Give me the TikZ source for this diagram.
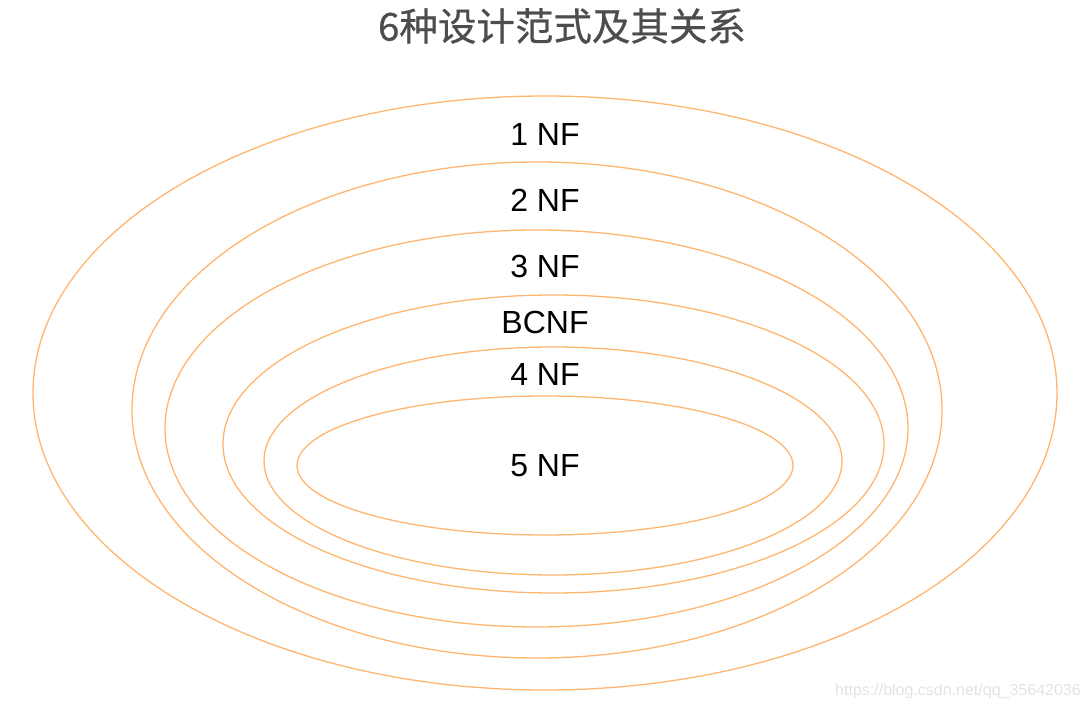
\documentclass[tikz,border=0pt]{standalone}
\usepackage{fontspec}
\setmainfont{Liberation Sans}
\newfontfamily\cjkfont[FakeBold=0.6]{Noto Sans CJK SC}
\usepackage{xcolor}
\definecolor{RingOrange}{HTML}{FFB570}
\definecolor{TitleGray}{HTML}{4D4D4D}
\definecolor{MarkGray}{HTML}{E3E3E3}
\usetikzlibrary{shapes.geometric}

\begin{document}
\begin{tikzpicture}[
  x=1pt,y=-1pt,
  ring/.style={ellipse,draw=RingOrange,line width=1.3pt,inner sep=0pt,outer sep=0pt},
  tag/.style={font=\fontsize{32}{36}\selectfont,text=black,inner sep=0pt},
  headline/.style={font=\cjkfont\fontsize{38.5}{42}\selectfont,text=TitleGray,inner sep=0pt}
]
  \useasboundingbox (0,0) rectangle (1090,708);

  % title
  \node[headline] (title) at (562,26) {6种设计范式及其关系};

  % nested rings, outside in
  \node[ring,minimum width=1024pt,minimum height=594pt] (ringA) at (545,393) {};
  \node[ring,minimum width=810pt,minimum height=496pt] (ringB) at (537,410) {};
  \node[ring,minimum width=743pt,minimum height=397pt] (ringC) at (536.5,428.5) {};
  \node[ring,minimum width=661pt,minimum height=298pt] (ringD) at (553.5,444) {};
  \node[ring,minimum width=578pt,minimum height=228pt] (ringE) at (553,461) {};
  \node[ring,minimum width=496pt,minimum height=139pt] (ringF) at (545,465.5) {};

  % labels
  \node[tag] (oneNF) at (545,134.5) {1 NF};
  \node[tag] (twoNF) at (545,200.5) {2 NF};
  \node[tag] (threeNF) at (545,266) {3 NF};
  \node[tag] (bcNF) at (545,322) {BCNF};
  \node[tag] (fourNF) at (545,374) {4 NF};
  \node[tag] (fiveNF) at (545,466) {5 NF};

  \node[font=\fontsize{16}{18}\selectfont,text=MarkGray,inner sep=0pt] (source) at (958,691) {https://blog.csdn.net/qq\_35642036};
\end{tikzpicture}
\end{document}
